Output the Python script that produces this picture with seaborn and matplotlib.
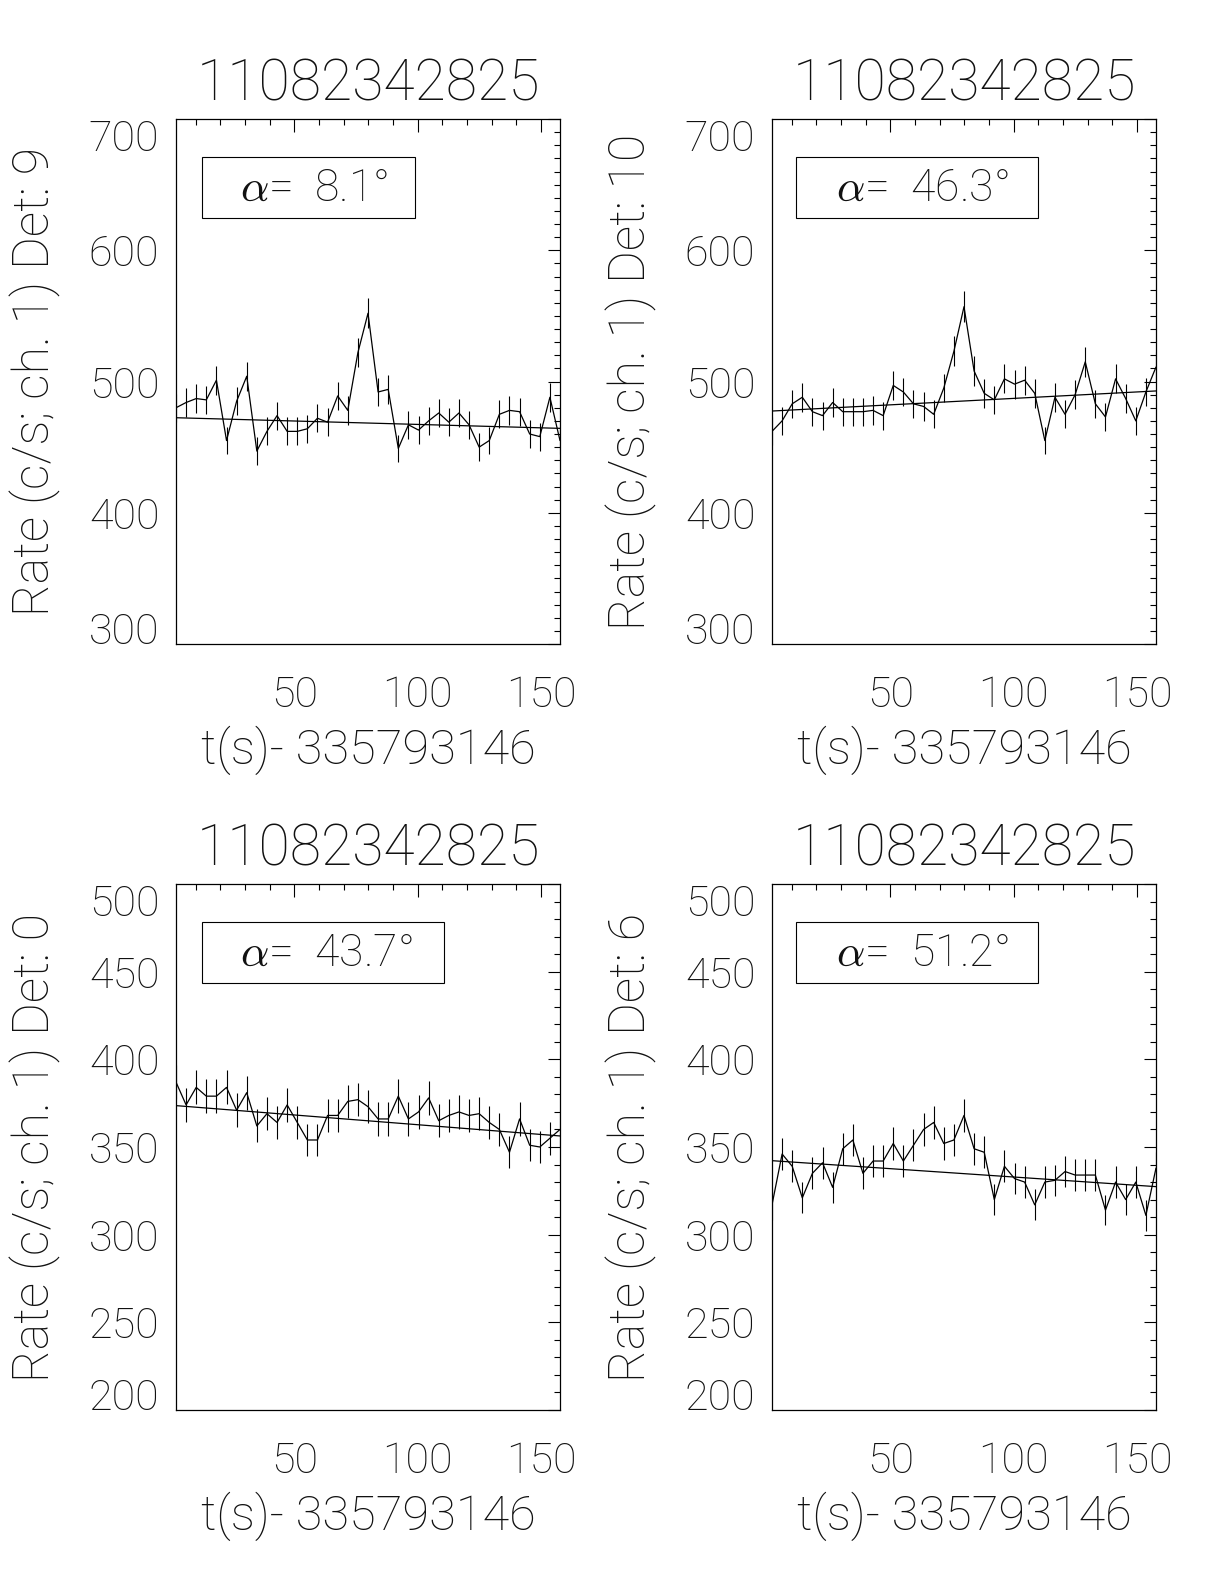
import numpy as np
import matplotlib
matplotlib.use('Agg')
import matplotlib.pyplot as plt
from matplotlib.ticker import MultipleLocator
from matplotlib.patches import Rectangle
import seaborn as sns

# light curves, 4.096 s bins, t(s) - 335793146
bin_width = 4.096
t = 2.048 + bin_width * np.arange(39)

title = '11082342825'
t0_label = 't(s)- 335793146'
detectors = [9, 10, 0, 6]
alphas = ['8.1', '46.3', '43.7', '51.2']

rate_det9 = [480, 484, 487, 486, 501, 455, 485, 504, 447, 462, 474, 462, 462,
             464, 472, 469, 489, 478, 522, 552, 492, 494, 449, 467, 463, 470,
             476, 469, 476, 467, 450, 455, 475, 478, 477, 460, 458, 488, 455]
rate_det10 = [462, 470, 483, 488, 477, 474, 484, 477, 477, 477, 478, 474, 497,
              492, 483, 481, 475, 495, 523, 557, 508, 491, 486, 502, 498, 501,
              491, 455, 488, 475, 490, 515, 483, 473, 502, 487, 470, 492, 511]
rate_det0 = [387, 374, 384, 379, 379, 384, 371, 381, 362, 369, 364, 374, 364,
             354, 354, 368, 368, 376, 377, 373, 366, 366, 379, 366, 370, 378,
             365, 368, 370, 368, 369, 364, 360, 347, 366, 351, 350, 355, 360]
rate_det6 = [317, 346, 339, 321, 335, 341, 327, 349, 354, 335, 342, 342, 352,
             342, 351, 360, 364, 352, 354, 368, 349, 347, 320, 339, 332, 330,
             317, 330, 331, 336, 334, 334, 334, 314, 330, 320, 330, 311, 338]
rates = [rate_det9, rate_det10, rate_det0, rate_det6]

# background fit (linear), value at first and last bin
fit_start = [472.4, 477.5, 373.6, 342.2]
fit_end = [464.3, 492.8, 356.3, 327.4]

ylims = [(300, 700), (300, 700), (200, 500), (200, 500)]
ymajor = [100, 100, 50, 50]

# axes rectangles in figure fraction
W, H = 1224, 1584
pos = [[176 / W, 1 - 644 / H, 384 / W, 525 / H],
       [772 / W, 1 - 644 / H, 384 / W, 525 / H],
       [176 / W, 1 - 1410 / H, 384 / W, 526 / H],
       [772 / W, 1 - 1410 / H, 384 / W, 526 / H]]
box_x = [0.068, 0.0625, 0.068, 0.0625]
box_w = [0.554, 0.63, 0.63, 0.63]

sns.set_theme(style='white')
plt.rcParams['font.family'] = ['Roboto', 'DejaVu Sans']
plt.rcParams['font.weight'] = 'light'
plt.rcParams['mathtext.fontset'] = 'cm'

txt = '#111111'
fig = plt.figure(figsize=(W / 100, H / 100), dpi=100)
axes = []

for i in range(4):
    ax = fig.add_axes(pos[i])
    axes.append(ax)
    rate = np.array(rates[i], dtype=float)
    err = np.sqrt(rate / bin_width)   # Poisson errors of the binned counts

    ax.errorbar(t, rate, yerr=err, fmt='none', ecolor='black', elinewidth=0.8, capsize=0)
    sns.lineplot(x=t, y=rate, ax=ax, color='black', linewidth=0.9, sort=False)
    sns.lineplot(x=[t[0], t[-1]], y=[fit_start[i], fit_end[i]], ax=ax, color='black', linewidth=0.9)

    ax.set_xlim(t[0], t[-1])
    ax.set_ylim(*ylims[i])
    ax.xaxis.set_major_locator(MultipleLocator(50))
    ax.xaxis.set_minor_locator(MultipleLocator(10))
    ax.yaxis.set_major_locator(MultipleLocator(ymajor[i]))
    ax.yaxis.set_minor_locator(MultipleLocator(10))
    ax.tick_params(which='both', direction='in', top=True, right=True, colors='black', width=0.8,
                   labelcolor=txt)
    ax.tick_params(which='major', length=9)
    ax.tick_params(which='minor', length=4.5)
    ax.tick_params(axis='x', which='major', pad=22, labelsize=31)
    ax.tick_params(axis='y', which='major', pad=12, labelsize=31)
    for sp in ax.spines.values():
        sp.set_color('black')
        sp.set_linewidth(0.9)

    ax.set_title(title, fontsize=41, fontweight='light', y=1.036, pad=0, color=txt)
    ax.set_xlabel(t0_label, fontsize=35, fontweight='light', color=txt)
    ax.xaxis.set_label_coords(0.5, -0.156)
    ax.set_ylabel('Rate (c/s; ch. 1) Det: %d' % detectors[i], fontsize=36,
                  fontweight='light', color=txt)
    ax.yaxis.set_label_coords(-0.30, 0.5)

    ax.add_patch(Rectangle((box_x[i], 0.812), box_w[i], 0.115, transform=ax.transAxes,
                           fill=False, edgecolor='black', linewidth=0.8))
    ax.text(0.167, 0.868, r'$\alpha$=  ' + alphas[i] + '°', transform=ax.transAxes,
            fontsize=32, va='center', ha='left', color=txt)

# keep the end labels of the y axis inside the frame
fig.canvas.draw()
for ax in axes:
    yticks = ax.yaxis.get_major_ticks()
    ymin, ymax = ax.get_ylim()
    for tk in yticks:
        if np.isclose(tk.get_loc(), ymax):
            tk.label1.set_va('top')
        elif np.isclose(tk.get_loc(), ymin):
            tk.label1.set_va('baseline')

fig.savefig('out.png', dpi=100, facecolor='white')
